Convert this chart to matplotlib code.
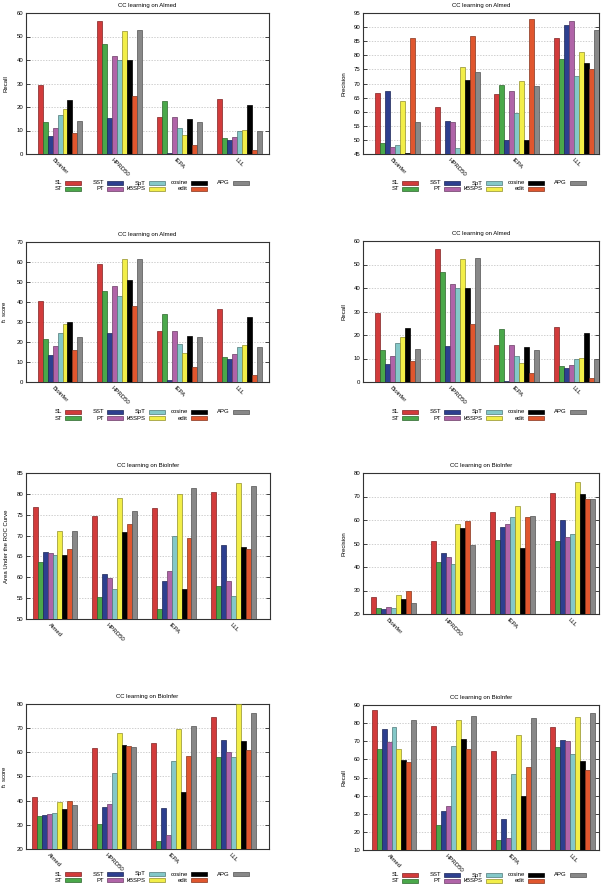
import matplotlib
matplotlib.use("Agg")
import matplotlib.pyplot as plt
from matplotlib.patches import Rectangle
import numpy as np

plt.rcParams['font.family'] = ['Liberation Sans', 'DejaVu Sans']

# series (bars inside each group) and x categories
series = ["SL", "ST", "SST", "PT", "SpT", "kBSPS", "cosine", "edit", "APG"]
colors = ["#d23b3b", "#4aa84a", "#2d3f8f", "#b064a8", "#84c8c8",
          "#f2ee48", "#000000", "#e0562e", "#888888"]
corpora_almed = ["Bioinfer", "HPRD50", "IEPA", "LLL"]
corpora_bioinfer = ["Almed", "HPRD50", "IEPA", "LLL"]

# values: one row per corpus, one column per series
almed_recall = [
    [29.2, 13.8, 7.5, 11.0, 16.4, 19.0, 22.8, 8.8, 14.0],
    [56.4, 46.6, 15.3, 41.7, 40.0, 52.2, 40.0, 24.6, 52.8],
    [15.8, 22.4, 0.6, 15.6, 11.0, 8.0, 15.0, 4.0, 13.5],
    [23.3, 6.6, 6.1, 7.4, 9.8, 10.4, 20.7, 1.9, 9.9],
]
almed_precision = [
    [66.8, 49.0, 67.2, 47.6, 48.3, 63.7, 45.3, 86.3, 56.5],
    [61.5, 44.8, 56.7, 56.2, 47.0, 75.8, 71.4, 86.9, 74.0],
    [66.1, 69.3, 50.0, 67.4, 59.7, 71.0, 50.0, 92.9, 69.1],
    [86.3, 78.6, 90.8, 92.2, 72.5, 81.0, 77.3, 75.0, 89.0],
]
almed_f1 = [
    [40.6, 21.4, 13.5, 17.9, 24.3, 29.1, 30.2, 16.0, 22.5],
    [59.0, 45.6, 24.3, 47.8, 43.1, 61.6, 51.1, 38.2, 61.6],
    [25.4, 33.9, 1.2, 25.3, 18.8, 14.6, 23.1, 7.5, 22.5],
    [36.5, 12.3, 11.5, 13.8, 17.4, 18.4, 32.6, 3.6, 17.7],
]
bioinfer_auc = [
    [76.8, 63.7, 66.0, 65.9, 65.3, 71.2, 65.4, 66.9, 71.2],
    [74.8, 55.3, 60.9, 59.8, 57.2, 79.1, 70.8, 72.7, 76.0],
    [76.6, 52.4, 59.2, 61.5, 69.9, 80.0, 57.1, 69.3, 81.4],
    [80.5, 58.0, 67.8, 59.1, 55.6, 82.5, 67.3, 66.9, 82.0],
]
bioinfer_precision = [
    [27.1, 22.4, 22.0, 22.9, 22.4, 27.9, 26.2, 30.0, 24.6],
    [51.0, 42.0, 45.9, 44.1, 41.4, 58.2, 56.5, 59.4, 49.3],
    [63.3, 51.5, 56.9, 58.4, 61.2, 66.0, 47.9, 61.1, 61.7],
    [71.6, 51.1, 60.1, 52.8, 54.1, 76.1, 71.2, 69.0, 69.0],
]
bioinfer_f1 = [
    [41.6, 33.6, 34.2, 34.6, 34.8, 39.3, 36.6, 39.7, 38.0],
    [61.8, 30.5, 37.3, 38.7, 51.4, 68.0, 63.0, 62.5, 62.2],
    [64.0, 23.5, 36.8, 25.7, 56.4, 69.6, 43.6, 58.5, 70.8],
    [74.6, 58.0, 65.0, 60.2, 58.2, 80.1, 64.7, 60.9, 76.3],
]
bioinfer_recall = [
    [87.2, 65.8, 76.5, 69.5, 77.8, 65.8, 59.7, 58.4, 81.9],
    [78.5, 23.9, 31.4, 34.4, 67.4, 81.6, 71.2, 65.7, 84.0],
    [64.8, 15.3, 27.1, 16.5, 52.2, 73.3, 40.0, 55.7, 82.8],
    [78.0, 67.0, 70.7, 70.1, 62.9, 83.5, 59.1, 54.2, 85.6],
]

W, H = 612, 886
fig = plt.figure(figsize=(W / 100, H / 100), dpi=100)

# panel: data, title, ylabel, x labels, ylim, ystep, axes rect px (l, t, r, b), xlim, legend row offset
panels = [
    (almed_recall, "CC learning on Almed", "Recall", corpora_almed, (0, 60), 10,
     (26, 13, 269, 154), (-0.57, 3.50), 29),
    (almed_precision, "CC learning on Almed", "Precision", corpora_almed, (45, 95), 5,
     (363, 13, 599, 154), (-0.58, 3.38), 29),
    (almed_f1, "CC learning on Almed", "f$_1$ score", corpora_almed, (0, 70), 10,
     (26, 242, 269, 382), (-0.57, 3.50), 30),
    (almed_recall, "CC learning on Almed", "Recall", corpora_almed, (0, 60), 10,
     (363, 241, 599, 382), (-0.58, 3.38), 30),
    (bioinfer_auc, "CC learning on BioInfer", "Area Under the ROC Curve", corpora_bioinfer, (50, 85), 5,
     (26, 473, 270, 619), (-0.487, 3.61), None),
    (bioinfer_precision, "CC learning on BioInfer", "Precision", corpora_almed, (20, 80), 10,
     (363, 473, 599, 614), (-0.51, 3.45), None),
    (bioinfer_f1, "CC learning on BioInfer", "f$_1$ score", corpora_bioinfer, (20, 80), 10,
     (26, 704, 269, 849), (-0.478, 3.60), 25),
    (bioinfer_recall, "CC learning on BioInfer", "Recall", corpora_bioinfer, (10, 90), 10,
     (363, 705, 599, 850), (-0.52, 3.44), 25),
]


def darker(c, f=0.6):
    rgb = np.array(matplotlib.colors.to_rgb(c))
    return tuple(rgb * f)


bw = 1 / 12
fs = 4.3

for data, title, ylabel, xlabels, ylim, ystep, (l, t, r, b), xlim, leg in panels:
    ax = fig.add_axes([l / W, 1 - b / H, (r - l) / W, (b - t) / H])
    vals = np.array(data)
    x = np.arange(len(xlabels))
    for i, name in enumerate(series):
        ax.bar(x + (i - 4) * bw, vals[:, i], width=bw, color=colors[i],
               edgecolor=darker(colors[i]), linewidth=0.5, zorder=3)
    ax.set_xlim(*xlim)
    ax.set_ylim(*ylim)
    ax.set_yticks(np.arange(ylim[0], ylim[1] + 0.1, ystep))
    ax.set_xticks(x)
    ax.set_xticklabels(xlabels, rotation=-45, ha='center', va='top', fontsize=fs)
    ax.tick_params(axis='y', direction='in', right=True, labelsize=fs, length=3, width=0.5, pad=2)
    ax.tick_params(axis='x', direction='in', length=3, width=0.5, pad=2)
    ax.grid(axis='y', linestyle=(0, (2, 2)), color='#bbbbbb', linewidth=0.5, zorder=0)
    for s in ax.spines.values():
        s.set_linewidth(0.8)
        s.set_color('#333333')
    ax.set_title(title, fontsize=fs, pad=4)
    ax.set_ylabel(ylabel, fontsize=fs)
    ax.yaxis.set_label_coords(-17 / (r - l), 0.5)

    if leg is not None:
        for i, name in enumerate(series):
            col, row = i // 2, i % 2
            sx = l + 39 + 42 * col
            sy = b + leg + 6 * row
            fig.add_artist(Rectangle((sx / W, 1 - (sy + 1.8) / H), 16 / W, 3.6 / H,
                                     transform=fig.transFigure, facecolor=colors[i],
                                     edgecolor=darker(colors[i]), linewidth=0.5))
            fig.text((sx - 3) / W, 1 - sy / H, name, ha='right', va='center', fontsize=fs)

fig.savefig("out.png", dpi=100)
